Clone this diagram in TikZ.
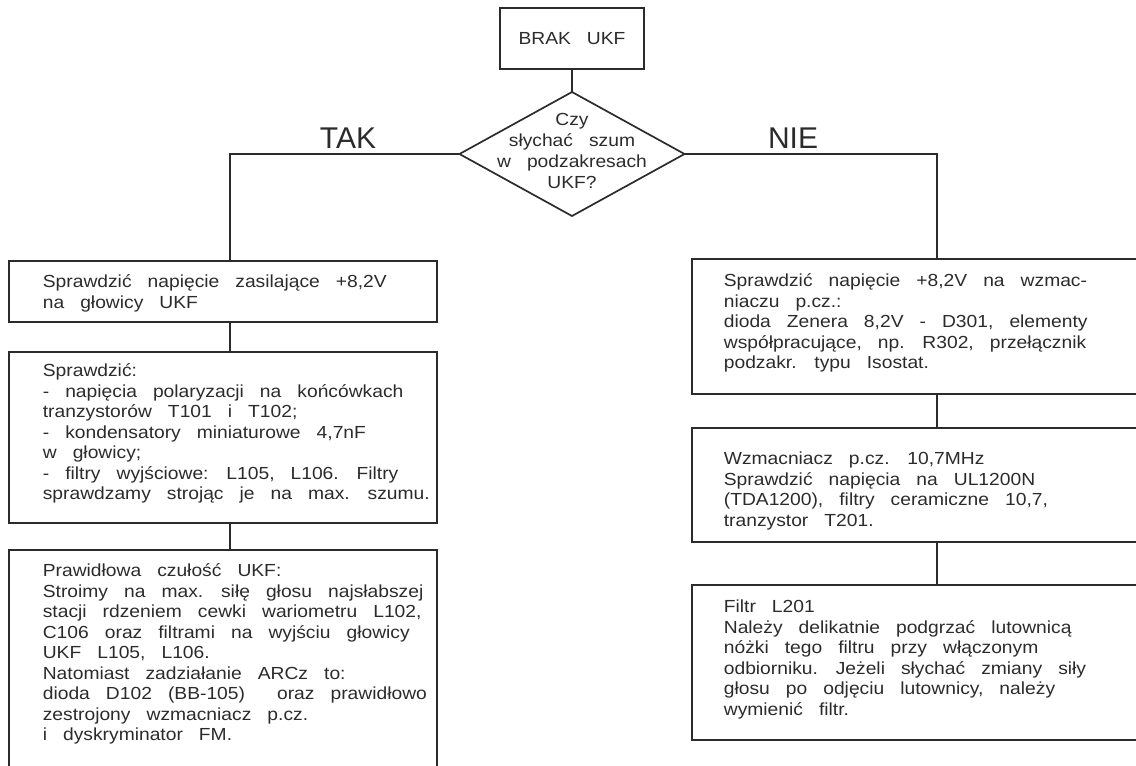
\documentclass[tikz,border=0pt]{standalone}
\usepackage{fontspec}
\setmainfont{Liberation Sans}[FakeStretch=1.1,WordSpace=3]
\newfontfamily\labelfont{Liberation Sans}
\usetikzlibrary{shapes.geometric,positioning}
\definecolor{ink}{HTML}{2B2B2B}

\begin{document}
\begin{tikzpicture}[x=1pt,y=-1pt,line width=1.7pt,color=ink,
  box/.style={draw,rectangle,anchor=north west,inner sep=0pt,outer sep=0pt},
  decision/.style={draw,diamond,inner sep=0pt,outer sep=0pt,minimum width=225pt,minimum height=124pt},
  body/.style={anchor=north west,inner sep=0pt,align=left,font=\fontsize{17.5}{20.5}\selectfont,
    execute at begin node=\rule{0pt}{18pt}},
  answer/.style={anchor=base,inner sep=0pt,font=\labelfont\fontsize{30}{30}\selectfont}]
\useasboundingbox (0,0) rectangle (1136,766);
\clip (0,0) rectangle (1136,766);

\node[draw,rectangle,minimum width=144pt,minimum height=61pt,inner sep=0pt,outer sep=0pt,
  font=\fontsize{17.5}{20.5}\selectfont] (start) at (572,38.5) {BRAK UKF};
\node[decision] (question) at (572,154) {};
\node[inner sep=0pt,align=center,font=\fontsize{17.5}{21}\selectfont] (questionText) at (572,151)
  {Czy\\słychać szum\\w podzakresach\\UKF?};

\node[answer] (yes) at (348,148) {TAK};
\node[answer] (no) at (793,148) {NIE};

% TAK
\node[box,minimum width=428pt,minimum height=61pt] (tak1) at (9,261) {};
\node[body] (tak1Text) at (42,274) {Sprawdzić napięcie zasilające +8,2V\\na głowicy UKF};
\node[box,minimum width=428pt,minimum height=171pt] (tak2) at (9,352) {};
\node[body] (tak2Text) at (42,363) {Sprawdzić:\\- napięcia polaryzacji na końcówkach\\tranzystorów T101 i T102;\\- kondensatory miniaturowe 4,7nF\\w głowicy;\\- filtry wyjściowe: L105, L106. Filtry\\sprawdzamy strojąc je na max. szumu.};
\node[box,minimum width=428pt,minimum height=240pt] (tak3) at (9,550) {};
\node[body] (tak3Text) at (42,563) {Prawidłowa czułość UKF:\\Stroimy na max. siłę głosu najsłabszej\\stacji rdzeniem cewki wariometru L102,\\C106 oraz filtrami na wyjściu głowicy\\UKF L105, L106.\\Natomiast zadziałanie ARCz to:\\dioda D102 (BB-105)~ oraz prawidłowo\\zestrojony wzmacniacz p.cz.\\i dyskryminator FM.};

% NIE
\node[box,minimum width=490pt,minimum height=135pt] (nie1) at (692,259) {};
\node[body] (nie1Text) at (723,273) {Sprawdzić napięcie +8,2V na wzmac-\\niaczu p.cz.:\\dioda Zenera 8,2V - D301, elementy\\współpracujące, np. R302, przełącznik\\podzakr. typu Isostat.};
\node[box,minimum width=490pt,minimum height=114pt] (nie2) at (692,428) {};
\node[body] (nie2Text) at (723,451) {Wzmacniacz p.cz. 10,7MHz\\Sprawdzić napięcia na UL1200N\\(TDA1200), filtry ceramiczne 10,7,\\tranzystor T201.};
\node[box,minimum width=490pt,minimum height=155pt] (nie3) at (692,585) {};
\node[body] (nie3Text) at (723,599) {Filtr L201\\Należy delikatnie podgrzać lutownicą\\nóżki tego filtru przy włączonym\\odbiorniku. Jeżeli słychać zmiany siły\\głosu po odjęciu lutownicy, należy\\wymienić filtr.};

\draw (start) -- (question);
\draw (question.west) -| ([xshift=7pt]tak1.north);
\draw (question.east) -| (nie1.north);
\draw ([xshift=7pt]tak1.south) -- ([xshift=7pt]tak2.north);
\draw ([xshift=7pt]tak2.south) -- ([xshift=7pt]tak3.north);
\draw (nie1) -- (nie2);
\draw (nie2) -- (nie3);
\end{tikzpicture}
\end{document}
